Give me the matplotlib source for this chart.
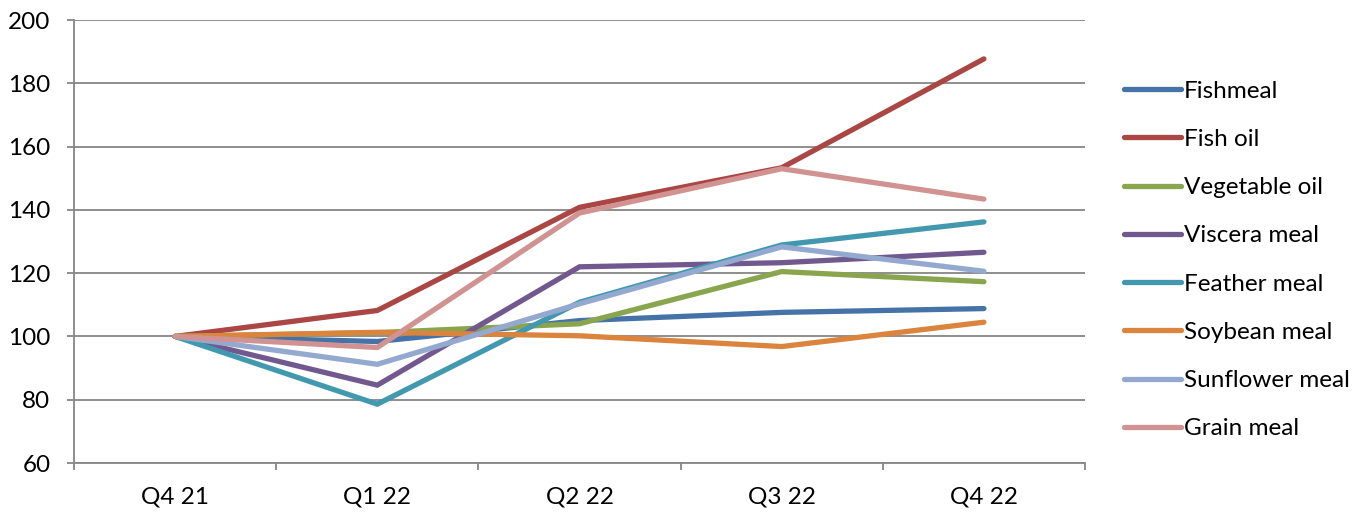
import matplotlib
matplotlib.use("Agg")
import matplotlib.pyplot as plt

plt.rcParams['font.family'] = ['Lato', 'DejaVu Sans']

quarters = ['Q4 21', 'Q1 22', 'Q2 22', 'Q3 22', 'Q4 22']

fishmeal = [100, 98.4, 105.0, 107.6, 108.8]
fish_oil = [100, 108.2, 140.8, 153.3, 187.7]
vegetable_oil = [100, 101.2, 104.0, 120.5, 117.3]
viscera_meal = [100, 84.6, 122.0, 123.3, 126.6]
feather_meal = [100, 78.6, 110.8, 128.9, 136.2]
soybean_meal = [100, 101.3, 100.2, 96.8, 104.5]
sunflower_meal = [100, 91.2, 110.3, 128.3, 120.6]
grain_meal = [100, 96.5, 139.0, 153.0, 143.4]

series = [
    ('Fishmeal', fishmeal, '#4572A7'),
    ('Fish oil', fish_oil, '#AA4643'),
    ('Vegetable oil', vegetable_oil, '#89A54E'),
    ('Viscera meal', viscera_meal, '#71588F'),
    ('Feather meal', feather_meal, '#4198AF'),
    ('Soybean meal', soybean_meal, '#DB843D'),
    ('Sunflower meal', sunflower_meal, '#93A9CF'),
    ('Grain meal', grain_meal, '#D19392'),
]

fig = plt.figure(figsize=(13.72, 5.12), dpi=100)
ax = fig.add_axes([74 / 1372, 1 - 463 / 512, (1085 - 74) / 1372, (463 - 20) / 512])

x = list(range(len(quarters)))
for name, vals, col in series:
    ax.plot(x, vals, color=col, lw=3.8, label=name,
            solid_capstyle='round', solid_joinstyle='miter')

grid_col = '#868686'
ax.set_ylim(60, 200)
ax.set_yticks(range(60, 201, 20))
ax.yaxis.grid(True, color=grid_col, lw=1.3)
ax.set_axisbelow(True)

ax.set_xlim(-0.5, len(quarters) - 0.5)
ax.set_xticks([i - 0.5 for i in range(len(quarters) + 1)])
ax.set_xticklabels([])
ax.set_xticks(x, minor=True)
ax.set_xticklabels(quarters, minor=True)

for s in ['top', 'right']:
    ax.spines[s].set_visible(False)
for s in ['left', 'bottom']:
    ax.spines[s].set_color(grid_col)
    ax.spines[s].set_linewidth(1.3)

ax.tick_params(axis='y', length=5, width=1.3, color=grid_col, pad=12, labelsize=17.5)
ax.tick_params(axis='x', which='major', length=5, width=1.3, color=grid_col)
ax.tick_params(axis='x', which='minor', length=0, pad=17, labelsize=17.5)

leg = ax.legend(loc='center left', bbox_to_anchor=(1124 / 1372, 1 - 260 / 512),
                bbox_transform=fig.transFigure, frameon=False, fontsize=17.5,
                handlelength=2.35, handletextpad=0.12, labelspacing=1.12,
                borderpad=0, borderaxespad=0)
for h in leg.get_lines():
    h.set_linewidth(3.8)
    h.set_solid_capstyle('round')

fig.savefig('out.png', dpi=100)
